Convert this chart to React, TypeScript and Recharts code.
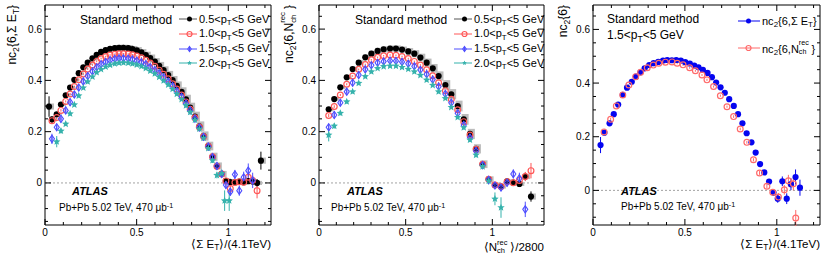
import React from 'react';
import {
  ScatterChart,
  Scatter,
  XAxis,
  YAxis,
  ErrorBar,
  ReferenceLine,
  ReferenceArea,
} from 'recharts';

const FONT = '"Liberation Sans", Arial, Helvetica, sans-serif';

const COLORS = {
  black: '#000000',
  red: '#ff5757',
  blue: '#4f4fff',
  teal: '#35b2ac',
  blue3: '#0505f0',
  red3: '#ff6a6a',
  sys: '#bcbcbc',
  zero: '#8c8c8c',
};

// ---- panel 1: nc2{6, sum ET} vs <sum ET>/(4.1 TeV), rows are [x, y, stat err]
const et05 = [
  [0.022, 0.298, 0.04], [0.038, 0.248, 0.012], [0.064, 0.268, 0.006], [0.087, 0.306, 0.005],
  [0.113, 0.342, 0.004], [0.137, 0.372, 0.004], [0.16, 0.402, 0.003], [0.184, 0.428, 0.003],
  [0.209, 0.451, 0.003], [0.233, 0.469, 0.003], [0.259, 0.486, 0.003], [0.282, 0.5, 0.003],
  [0.306, 0.511, 0.003], [0.331, 0.518, 0.003], [0.355, 0.523, 0.003], [0.381, 0.526, 0.003],
  [0.404, 0.527, 0.003], [0.428, 0.527, 0.003], [0.454, 0.526, 0.003], [0.477, 0.522, 0.003],
  [0.501, 0.517, 0.003], [0.526, 0.509, 0.003], [0.55, 0.499, 0.003], [0.574, 0.487, 0.003],
  [0.599, 0.473, 0.003], [0.623, 0.457, 0.003], [0.647, 0.44, 0.003], [0.672, 0.421, 0.003],
  [0.696, 0.401, 0.003], [0.719, 0.379, 0.003], [0.745, 0.355, 0.003], [0.769, 0.326, 0.003],
  [0.792, 0.294, 0.003], [0.818, 0.259, 0.003], [0.842, 0.221, 0.003], [0.865, 0.183, 0.004],
  [0.891, 0.144, 0.004], [0.914, 0.102, 0.004], [0.938, 0.066, 0.005], [0.964, 0.035, 0.006],
  [0.987, 0.008, 0.007], [1.011, 0.003, 0.007], [1.036, 0.003, 0.007], [1.06, 0.005, 0.008],
  [1.084, 0.003, 0.008], [1.109, 0.007, 0.01], [1.133, 0.006, 0.012], [1.157, 0.0, 0.015],
  [1.178, 0.087, 0.035],
];
const et05Sys = [
  0.012, 0.008, 0.006, 0.006, 0.006, 0.007, 0.007, 0.008, 0.008, 0.009,
  0.009, 0.01, 0.01, 0.011, 0.011, 0.011, 0.012, 0.012, 0.012, 0.012,
  0.013, 0.013, 0.013, 0.014, 0.014, 0.015, 0.015, 0.016, 0.016, 0.017,
  0.018, 0.018, 0.019, 0.019, 0.019, 0.018, 0.017, 0.016, 0.014, 0.012,
  0.01, 0.008, 0.008, 0.008, 0.008, 0.008, 0.008, 0.008, 0.012,
];
const et10 = [
  [0.038, 0.243, 0.012], [0.064, 0.255, 0.006], [0.087, 0.283, 0.005], [0.113, 0.318, 0.004],
  [0.137, 0.347, 0.004], [0.16, 0.376, 0.003], [0.184, 0.402, 0.003], [0.209, 0.425, 0.003],
  [0.233, 0.444, 0.003], [0.259, 0.46, 0.003], [0.282, 0.474, 0.003], [0.306, 0.485, 0.003],
  [0.331, 0.493, 0.003], [0.355, 0.499, 0.003], [0.381, 0.502, 0.003], [0.404, 0.504, 0.003],
  [0.428, 0.504, 0.003], [0.454, 0.503, 0.003], [0.477, 0.5, 0.003], [0.501, 0.495, 0.003],
  [0.526, 0.488, 0.003], [0.55, 0.479, 0.003], [0.574, 0.468, 0.003], [0.599, 0.455, 0.003],
  [0.623, 0.44, 0.003], [0.647, 0.424, 0.003], [0.672, 0.406, 0.003], [0.696, 0.387, 0.003],
  [0.719, 0.366, 0.003], [0.745, 0.343, 0.003], [0.769, 0.316, 0.003], [0.792, 0.287, 0.003],
  [0.818, 0.254, 0.004], [0.842, 0.218, 0.004], [0.865, 0.181, 0.004], [0.891, 0.143, 0.005],
  [0.914, 0.102, 0.005], [0.938, 0.065, 0.006], [0.964, 0.035, 0.007], [0.987, 0.008, 0.008],
  [1.011, -0.022, 0.012], [1.036, 0.002, 0.01], [1.06, 0.005, 0.01], [1.084, 0.003, 0.012],
  [1.109, 0.022, 0.015], [1.133, 0.01, 0.018], [1.157, -0.03, 0.03],
];
const et15 = [
  [0.038, 0.172, 0.02], [0.064, 0.217, 0.008], [0.087, 0.25, 0.006], [0.113, 0.283, 0.005],
  [0.137, 0.315, 0.005], [0.16, 0.345, 0.004], [0.184, 0.372, 0.004], [0.209, 0.396, 0.004],
  [0.233, 0.417, 0.004], [0.259, 0.435, 0.004], [0.282, 0.451, 0.004], [0.306, 0.463, 0.004],
  [0.331, 0.472, 0.004], [0.355, 0.479, 0.004], [0.381, 0.484, 0.004], [0.404, 0.486, 0.004],
  [0.428, 0.486, 0.004], [0.454, 0.485, 0.004], [0.477, 0.482, 0.004], [0.501, 0.477, 0.004],
  [0.526, 0.471, 0.004], [0.55, 0.463, 0.004], [0.574, 0.452, 0.004], [0.599, 0.44, 0.004],
  [0.623, 0.427, 0.004], [0.647, 0.412, 0.004], [0.672, 0.395, 0.004], [0.696, 0.378, 0.004],
  [0.719, 0.358, 0.004], [0.745, 0.336, 0.004], [0.769, 0.31, 0.004], [0.792, 0.283, 0.005],
  [0.818, 0.251, 0.005], [0.842, 0.216, 0.005], [0.865, 0.18, 0.006], [0.891, 0.142, 0.006],
  [0.914, 0.101, 0.007], [0.938, 0.066, 0.008], [0.964, 0.035, 0.009], [0.987, -0.008, 0.012],
  [1.011, -0.034, 0.015], [1.036, 0.033, 0.018], [1.06, -0.03, 0.02], [1.084, 0.022, 0.022],
  [1.109, 0.048, 0.028], [1.133, 0.01, 0.03],
];
const et20 = [
  [0.064, 0.161, 0.022], [0.087, 0.203, 0.01], [0.113, 0.23, 0.008], [0.137, 0.27, 0.007],
  [0.16, 0.305, 0.006], [0.184, 0.34, 0.006], [0.209, 0.371, 0.005], [0.233, 0.395, 0.005],
  [0.259, 0.414, 0.005], [0.282, 0.431, 0.005], [0.306, 0.443, 0.005], [0.331, 0.453, 0.005],
  [0.355, 0.46, 0.005], [0.381, 0.465, 0.005], [0.404, 0.468, 0.005], [0.428, 0.469, 0.005],
  [0.454, 0.468, 0.005], [0.477, 0.465, 0.005], [0.501, 0.461, 0.005], [0.526, 0.455, 0.005],
  [0.55, 0.447, 0.005], [0.574, 0.437, 0.005], [0.599, 0.426, 0.005], [0.623, 0.413, 0.005],
  [0.647, 0.399, 0.005], [0.672, 0.383, 0.005], [0.696, 0.366, 0.005], [0.719, 0.347, 0.005],
  [0.745, 0.326, 0.006], [0.769, 0.302, 0.006], [0.792, 0.276, 0.006], [0.818, 0.246, 0.007],
  [0.842, 0.211, 0.007], [0.865, 0.175, 0.008], [0.891, 0.135, 0.009], [0.914, 0.088, 0.01],
  [0.938, 0.03, 0.012], [0.964, 0.037, 0.015], [0.98, -0.069, 0.04], [1.005, -0.069, 0.04],
];

// ---- panel 2: nc2{6, Nch rec} vs <Nch rec>/2800
const nch05 = [
  [0.056, 0.287, 0.006], [0.088, 0.327, 0.005], [0.123, 0.373, 0.004], [0.16, 0.412, 0.004],
  [0.194, 0.444, 0.003], [0.229, 0.469, 0.003], [0.267, 0.49, 0.003], [0.302, 0.504, 0.003],
  [0.338, 0.515, 0.003], [0.373, 0.521, 0.003], [0.41, 0.524, 0.003], [0.444, 0.524, 0.003],
  [0.479, 0.52, 0.003], [0.515, 0.513, 0.003], [0.55, 0.504, 0.003], [0.585, 0.489, 0.003],
  [0.621, 0.469, 0.003], [0.656, 0.447, 0.003], [0.69, 0.417, 0.003], [0.729, 0.382, 0.003],
  [0.763, 0.346, 0.003], [0.8, 0.3, 0.003], [0.835, 0.248, 0.004], [0.871, 0.191, 0.004],
  [0.906, 0.133, 0.005], [0.944, 0.073, 0.006], [0.979, 0.014, 0.007], [1.015, -0.008, 0.008],
  [1.05, -0.014, 0.009], [1.085, 0.006, 0.01], [1.121, 0.001, 0.011], [1.156, -0.004, 0.012],
  [1.19, 0.025, 0.015], [1.223, -0.053, 0.02],
];
const nch05Sys = [
  0.008, 0.007, 0.007, 0.008, 0.009, 0.01, 0.011, 0.012, 0.012, 0.012,
  0.012, 0.012, 0.012, 0.013, 0.014, 0.015, 0.016, 0.017, 0.018, 0.019,
  0.02, 0.021, 0.021, 0.02, 0.018, 0.015, 0.012, 0.01, 0.008, 0.008,
  0.008, 0.008, 0.01, 0.012,
];
const nch10 = [
  [0.056, 0.263, 0.006], [0.088, 0.298, 0.005], [0.123, 0.343, 0.004], [0.16, 0.385, 0.004],
  [0.194, 0.417, 0.003], [0.229, 0.443, 0.003], [0.267, 0.462, 0.003], [0.302, 0.48, 0.003],
  [0.338, 0.49, 0.003], [0.373, 0.496, 0.003], [0.41, 0.499, 0.003], [0.444, 0.498, 0.003],
  [0.479, 0.493, 0.003], [0.515, 0.485, 0.003], [0.55, 0.474, 0.003], [0.585, 0.46, 0.003],
  [0.621, 0.441, 0.003], [0.656, 0.418, 0.003], [0.69, 0.391, 0.003], [0.729, 0.36, 0.003],
  [0.763, 0.326, 0.003], [0.8, 0.285, 0.004], [0.835, 0.239, 0.004], [0.871, 0.187, 0.005],
  [0.906, 0.131, 0.005], [0.944, 0.073, 0.006], [0.979, 0.014, 0.008], [1.015, -0.008, 0.009],
  [1.05, -0.014, 0.01], [1.085, 0.005, 0.011], [1.121, 0.001, 0.012], [1.156, 0.01, 0.014],
  [1.19, 0.025, 0.018], [1.223, 0.048, 0.03],
];
const nch15 = [
  [0.056, 0.217, 0.008], [0.088, 0.265, 0.006], [0.123, 0.313, 0.005], [0.16, 0.356, 0.005],
  [0.194, 0.391, 0.004], [0.229, 0.421, 0.004], [0.267, 0.443, 0.004], [0.302, 0.459, 0.004],
  [0.338, 0.469, 0.004], [0.373, 0.474, 0.004], [0.41, 0.477, 0.004], [0.444, 0.476, 0.004],
  [0.479, 0.472, 0.004], [0.515, 0.465, 0.004], [0.55, 0.455, 0.004], [0.585, 0.441, 0.004],
  [0.621, 0.424, 0.004], [0.656, 0.403, 0.004], [0.69, 0.376, 0.004], [0.729, 0.347, 0.004],
  [0.763, 0.313, 0.005], [0.8, 0.272, 0.005], [0.835, 0.226, 0.005], [0.871, 0.177, 0.006],
  [0.906, 0.125, 0.006], [0.944, 0.07, 0.007], [0.979, 0.012, 0.009], [1.015, -0.01, 0.011],
  [1.05, -0.018, 0.013], [1.085, 0.001, 0.015], [1.121, 0.035, 0.018], [1.156, 0.018, 0.022],
  [1.19, -0.103, 0.03],
];
const nch20 = [
  [0.056, 0.187, 0.025], [0.088, 0.222, 0.01], [0.123, 0.272, 0.008], [0.16, 0.317, 0.007],
  [0.194, 0.356, 0.006], [0.229, 0.389, 0.006], [0.267, 0.415, 0.005], [0.302, 0.434, 0.005],
  [0.338, 0.447, 0.005], [0.373, 0.454, 0.005], [0.41, 0.456, 0.005], [0.444, 0.456, 0.005],
  [0.479, 0.451, 0.005], [0.515, 0.444, 0.005], [0.55, 0.434, 0.005], [0.585, 0.42, 0.005],
  [0.621, 0.402, 0.005], [0.656, 0.381, 0.005], [0.69, 0.356, 0.005], [0.729, 0.33, 0.006],
  [0.763, 0.295, 0.006], [0.8, 0.256, 0.007], [0.835, 0.216, 0.007], [0.871, 0.168, 0.008],
  [0.906, 0.109, 0.009], [0.944, 0.064, 0.011], [0.979, 0.008, 0.014], [1.015, -0.062, 0.025],
  [1.05, -0.096, 0.04],
];

// ---- panel 3: 1.5<pT<5 GeV, both estimators vs <sum ET>/(4.1 TeV)
const cmpEt = [
  [0.041, 0.169, 0.03], [0.062, 0.215, 0.01], [0.09, 0.25, 0.007], [0.113, 0.284, 0.006],
  [0.137, 0.32, 0.005], [0.162, 0.356, 0.005], [0.185, 0.383, 0.004], [0.211, 0.405, 0.004],
  [0.234, 0.424, 0.004], [0.258, 0.44, 0.004], [0.281, 0.455, 0.004], [0.306, 0.467, 0.004],
  [0.33, 0.474, 0.004], [0.355, 0.479, 0.004], [0.381, 0.484, 0.004], [0.404, 0.486, 0.004],
  [0.429, 0.485, 0.004], [0.453, 0.486, 0.004], [0.478, 0.484, 0.004], [0.502, 0.478, 0.004],
  [0.527, 0.473, 0.004], [0.551, 0.465, 0.004], [0.574, 0.459, 0.004], [0.598, 0.449, 0.004],
  [0.623, 0.438, 0.004], [0.647, 0.422, 0.004], [0.67, 0.402, 0.004], [0.694, 0.384, 0.004],
  [0.717, 0.364, 0.004], [0.741, 0.34, 0.004], [0.766, 0.315, 0.005], [0.789, 0.284, 0.005],
  [0.813, 0.25, 0.005], [0.836, 0.213, 0.005], [0.862, 0.179, 0.006], [0.885, 0.141, 0.006],
  [0.909, 0.098, 0.007], [0.932, 0.067, 0.008], [0.958, 0.033, 0.009], [0.982, -0.008, 0.012],
  [1.005, -0.031, 0.015], [1.03, 0.034, 0.018], [1.054, -0.031, 0.02], [1.077, 0.023, 0.022],
  [1.102, 0.05, 0.028], [1.126, 0.01, 0.03],
];
const cmpNch = [
  [0.06, 0.218, 0.008], [0.096, 0.265, 0.006], [0.127, 0.315, 0.005], [0.162, 0.356, 0.005],
  [0.195, 0.393, 0.004], [0.232, 0.424, 0.004], [0.259, 0.44, 0.004], [0.295, 0.457, 0.004],
  [0.328, 0.467, 0.004], [0.358, 0.474, 0.004], [0.394, 0.478, 0.004], [0.43, 0.479, 0.004],
  [0.458, 0.474, 0.004], [0.49, 0.468, 0.004], [0.526, 0.457, 0.004], [0.557, 0.446, 0.004],
  [0.593, 0.43, 0.004], [0.62, 0.412, 0.004], [0.656, 0.387, 0.004], [0.693, 0.353, 0.004],
  [0.729, 0.312, 0.004], [0.765, 0.275, 0.005], [0.801, 0.229, 0.005], [0.837, 0.179, 0.005],
  [0.873, 0.114, 0.006], [0.906, 0.065, 0.007], [0.946, 0.015, 0.009], [0.978, -0.007, 0.012],
  [1.009, -0.025, 0.015], [1.041, 0.002, 0.018], [1.063, 0.036, 0.022], [1.09, 0.025, 0.025],
  [1.103, -0.103, 0.03],
];

const xTicks = [0, 0.1, 0.2, 0.3, 0.4, 0.5, 0.6, 0.7, 0.8, 0.9, 1, 1.1, 1.2];
const yTicksWide = [-0.15, -0.1, -0.05, 0, 0.05, 0.1, 0.15, 0.2, 0.25, 0.3, 0.35, 0.4, 0.45, 0.5, 0.55, 0.6, 0.65];
const yTicksNarrow = [-0.1, -0.05, 0, 0.05, 0.1, 0.15, 0.2, 0.25, 0.3, 0.35, 0.4, 0.45, 0.5, 0.55, 0.6, 0.65];

const PLOT_H = 220;

const pts = (rows: number[][]) => rows.map(([x, y, e]) => ({ x, y, e }));
// grey systematic boxes sit a hair to the right of the black points
const sysBoxes = (rows: number[][], sys: number[]) =>
  rows.map(([x, y], i) => ({ x: x + 0.008, y, s: sys[i] ?? 0 }));

// ---- markers
type M = { cx: number; cy: number; color: string; r?: number };
const Dot = ({ cx, cy, color, r = 3.1 }: M) => <circle cx={cx} cy={cy} r={r} fill={color} />;
const Ring = ({ cx, cy, color, r = 2.9 }: M) => (
  <circle cx={cx} cy={cy} r={r} fill="none" stroke={color} strokeWidth={1.2} />
);
const Diamond = ({ cx, cy, color, r = 3.6 }: M) => (
  <g stroke={color} fill="none" strokeWidth={1.1}>
    <path d={`M${cx},${cy - r}L${cx + r * 0.7},${cy}L${cx},${cy + r}L${cx - r * 0.7},${cy}Z`} />
    <line x1={cx} x2={cx} y1={cy - r} y2={cy + r} />
  </g>
);
const Star = ({ cx, cy, color, r = 3.9 }: M) => {
  const p: string[] = [];
  for (let i = 0; i < 10; i++) {
    const rr = i % 2 === 0 ? r : r * 0.45;
    const a = -Math.PI / 2 + (i * Math.PI) / 5;
    p.push(`${cx + rr * Math.cos(a)},${cy + rr * Math.sin(a)}`);
  }
  return <polygon points={p.join(' ')} fill={color} />;
};
const Empty = () => <g />;

type Series = { rows: number[][]; color: string; Mark: (m: M) => React.ReactElement };

const fmt = (v: number) => String(Number(v.toFixed(2)));

function makeXTick(plotH: number) {
  return (p: any) => {
    const v = p.payload.value as number;
    const major = Math.abs(v * 2 - Math.round(v * 2)) < 1e-6;
    const len = major ? 6 : 3;
    return (
      <g>
        <line x1={p.x} x2={p.x} y1={p.y} y2={p.y - len} stroke="#000" />
        <line x1={p.x} x2={p.x} y1={p.y - plotH} y2={p.y - plotH + len} stroke="#000" />
        {major && (
          <text x={p.x} y={p.y + 10.5} textAnchor="middle" fontSize={10} fontFamily={FONT} fill="#000">
            {fmt(v)}
          </text>
        )}
      </g>
    );
  };
}

function makeYTick(plotW: number) {
  return (p: any) => {
    const v = p.payload.value as number;
    const major = Math.abs(v * 5 - Math.round(v * 5)) < 1e-6;
    const len = major ? 6 : 3;
    return (
      <g>
        <line x1={p.x} x2={p.x + len} y1={p.y} y2={p.y} stroke="#000" />
        <line x1={p.x + plotW} x2={p.x + plotW - len} y1={p.y} y2={p.y} stroke="#000" />
        {major && (
          <text x={p.x - 3} y={p.y} dy="0.35em" textAnchor="end" fontSize={10} fontFamily={FONT} fill="#000">
            {fmt(v)}
          </text>
        )}
      </g>
    );
  };
}

type PanelProps = {
  left: number;
  width: number;
  axisW: number;
  right: number;
  xMax: number;
  yMin: number;
  yMax: number;
  yTicks: number[];
  series: Series[];
  sys?: { rows: number[][]; s: number[] };
};

function Panel({ left, width, axisW, right, xMax, yMin, yMax, yTicks, series, sys }: PanelProps) {
  const plotW = width - axisW - right;
  return (
    <div style={{ position: 'absolute', left, top: 0 }}>
      <ScatterChart width={width} height={258} margin={{ top: 5, right, bottom: 0, left: 0 }}>
        <XAxis
          dataKey="x"
          type="number"
          domain={[0, xMax]}
          allowDataOverflow
          ticks={xTicks.filter((t) => t <= xMax)}
          interval={0}
          height={33}
          tickSize={0}
          tickMargin={0}
          tickLine={false}
          axisLine={false}
          tick={makeXTick(PLOT_H)}
        />
        <YAxis
          dataKey="y"
          type="number"
          domain={[yMin, yMax]}
          allowDataOverflow
          ticks={yTicks}
          interval={0}
          width={axisW}
          tickSize={0}
          tickMargin={0}
          tickLine={false}
          axisLine={false}
          tick={makeYTick(plotW)}
        />
        <ReferenceLine y={0} stroke={COLORS.zero} strokeDasharray="2 2" strokeWidth={0.8} />
        {sys && (
          <Scatter data={sysBoxes(sys.rows, sys.s)} shape={Empty} isAnimationActive={false}>
            <ErrorBar dataKey="s" direction="y" width={0} stroke={COLORS.sys} strokeWidth={7} isAnimationActive={false} />
          </Scatter>
        )}
        {series.map((s, i) => (
          <Scatter
            key={i}
            data={pts(s.rows)}
            isAnimationActive={false}
            shape={(p: any) => <s.Mark cx={p.cx} cy={p.cy} color={s.color} />}
          >
            <ErrorBar dataKey="e" direction="y" width={0} stroke={s.color} strokeWidth={1} isAnimationActive={false} />
          </Scatter>
        ))}
        <ReferenceArea
          x1={0}
          x2={xMax}
          y1={yMin}
          y2={yMax}
          fill="none"
          fillOpacity={0}
          stroke="#000"
          strokeWidth={1}
          ifOverflow="visible"
        />
      </ScatterChart>
    </div>
  );
}

// ---- text helpers
const Sub = ({ children }: { children: React.ReactNode }) => (
  <span style={{ fontSize: '0.72em', position: 'relative', top: '0.35em' }}>{children}</span>
);
const Sup = ({ children }: { children: React.ReactNode }) => (
  <span style={{ fontSize: '0.72em', position: 'relative', top: '-0.45em' }}>{children}</span>
);
const ChRec = ({ supTop = '-0.2em' }: { supTop?: string }) => (
  <span style={{ position: 'relative', display: 'inline-block', width: '1.15em', height: '1em' }}>
    <span style={{ position: 'absolute', left: 0, top: supTop, fontSize: '0.65em', lineHeight: 1 }}>rec</span>
    <span style={{ position: 'absolute', left: 0, top: '1.1em', fontSize: '0.65em', lineHeight: 1 }}>ch</span>
  </span>
);

const T = ({
  x,
  y,
  size = 11,
  children,
  style,
}: {
  x: number;
  y: number;
  size?: number;
  children: React.ReactNode;
  style?: React.CSSProperties;
}) => (
  <div
    style={{
      position: 'absolute',
      left: x,
      top: y - size / 2 - 1,
      fontSize: size,
      lineHeight: `${size + 2}px`,
      whiteSpace: 'nowrap',
      ...style,
    }}
  >
    {children}
  </div>
);

const YTitle = ({ x, children }: { x: number; children: React.ReactNode }) => (
  <div
    style={{
      position: 'absolute',
      left: x,
      top: 5 + 120,
      width: 120,
      textAlign: 'right',
      transform: 'rotate(-90deg)',
      transformOrigin: '0 0',
      fontSize: 12,
      lineHeight: '14px',
      whiteSpace: 'nowrap',
    }}
  >
    {children}
  </div>
);

const XTitle = ({ right, top = 237.5, children }: { right: number; top?: number; children: React.ReactNode }) => (
  <div
    style={{
      position: 'absolute',
      left: right - 150,
      top,
      width: 150,
      textAlign: 'right',
      fontSize: 11.5,
      lineHeight: '12px',
      whiteSpace: 'nowrap',
    }}
  >
    {children}
  </div>
);

const LegendRow = ({
  x0,
  x1,
  mx,
  tx,
  y,
  color,
  lineColor,
  Mark,
  children,
}: {
  x0: number;
  x1: number;
  mx: number;
  tx: number;
  y: number;
  color: string;
  lineColor?: string;
  Mark: (m: M) => React.ReactElement;
  children: React.ReactNode;
}) => (
  <>
    <svg style={{ position: 'absolute', left: x0, top: y - 6 }} width={x1 - x0} height={12}>
      <line x1={0} x2={x1 - x0} y1={6} y2={6} stroke={lineColor ?? color} strokeWidth={1} />
      <Mark cx={mx - x0} cy={6} color={color} r={2.5} />
    </svg>
    <T x={tx} y={y}>
      {children}
    </T>
  </>
);

const ptLabel = (lo: string) => (
  <>
    {lo}&lt;p<Sub>T</Sub>&lt;5 GeV
  </>
);

const etSeries: Series[] = [
  { rows: et05, color: COLORS.black, Mark: Dot },
  { rows: et10, color: COLORS.red, Mark: Ring },
  { rows: et15, color: COLORS.blue, Mark: Diamond },
  { rows: et20, color: COLORS.teal, Mark: Star },
];
const nchSeries: Series[] = [
  { rows: nch05, color: COLORS.black, Mark: Dot },
  { rows: nch10, color: COLORS.red, Mark: Ring },
  { rows: nch15, color: COLORS.blue, Mark: Diamond },
  { rows: nch20, color: COLORS.teal, Mark: Star },
];
const cmpSeries: Series[] = [
  { rows: cmpEt, color: COLORS.blue3, Mark: Dot },
  { rows: cmpNch, color: COLORS.red3, Mark: Ring },
];

const legendRows = [
  { lo: '0.5', color: COLORS.black, line: '#555', Mark: Dot, y: 19 },
  { lo: '1.0', color: COLORS.red, line: COLORS.red, Mark: Ring, y: 33.5 },
  { lo: '1.5', color: COLORS.blue, line: COLORS.blue, Mark: Diamond, y: 48.5 },
  { lo: '2.0', color: COLORS.teal, line: COLORS.teal, Mark: Star, y: 63 },
];

const PanelTexts = ({ dx }: { dx: number }) => (
  <>
    <T x={80 + dx} y={20} size={12}>
      Standard method
    </T>
    {legendRows.map((r) => (
      <LegendRow
        key={r.lo}
        x0={179 + dx}
        x1={197 + dx}
        mx={189.5 + dx}
        tx={199 + dx}
        y={r.y}
        color={r.color}
        lineColor={r.line}
        Mark={r.Mark}
      >
        {ptLabel(r.lo)}
      </LegendRow>
    ))}
  </>
);

export default function App() {
  return (
    <div
      style={{
        position: 'absolute',
        left: 0,
        top: 0,
        width: 830,
        height: 258,
        background: '#fff',
        fontFamily: FONT,
        color: '#000',
        overflow: 'hidden',
      }}
    >
      <Panel
        left={0}
        width={280}
        axisW={45}
        right={9}
        xMax={1.233}
        yMin={-0.164}
        yMax={0.694}
        yTicks={yTicksWide}
        series={etSeries}
        sys={{ rows: et05, s: et05Sys }}
      />
      <Panel
        left={275}
        width={278}
        axisW={44}
        right={9}
        xMax={1.298}
        yMin={-0.164}
        yMax={0.694}
        yTicks={yTicksWide}
        series={nchSeries}
        sys={{ rows: nch05, s: nch05Sys }}
      />
      <Panel
        left={550}
        width={280}
        axisW={43}
        right={10}
        xMax={1.235}
        yMin={-0.129}
        yMax={0.691}
        yTicks={yTicksNarrow}
        series={cmpSeries}
      />

      {/* panel 1 texts */}
      <YTitle x={5}>
        nc<Sub>2</Sub>{'{'}6,Σ E<Sub>T</Sub>{'}'}
      </YTitle>
      <PanelTexts dx={0} />
      <T x={72} y={191} style={{ fontWeight: 700, fontStyle: 'italic' }}>
        ATLAS
      </T>
      <T x={59} y={208} size={10}>
        Pb+Pb 5.02 TeV, 470 μb<Sup>-1</Sup>
      </T>
      <XTitle right={271}>
        ⟨Σ E<Sub>T</Sub>⟩/(4.1TeV)
      </XTitle>

      {/* panel 2 texts */}
      <YTitle x={281}>
        nc<Sub>2</Sub>{'{'}6,N<ChRec />{'}'}
      </YTitle>
      <PanelTexts dx={275} />
      <T x={347} y={191} style={{ fontWeight: 700, fontStyle: 'italic' }}>
        ATLAS
      </T>
      <T x={331} y={208} size={10}>
        Pb+Pb 5.02 TeV, 470 μb<Sup>-1</Sup>
      </T>
      <XTitle right={544} top={239}>
        ⟨N<ChRec supTop="-0.05em" />⟩/2800
      </XTitle>

      {/* panel 3 texts */}
      <YTitle x={556}>
        nc<Sub>2</Sub>{'{'}6{'}'}
      </YTitle>
      <T x={607} y={19} size={12}>
        Standard method
      </T>
      <T x={607} y={35} size={12}>
        {ptLabel('1.5')}
      </T>
      <LegendRow x0={738} x1={760} mx={748.5} tx={762} y={21} color={COLORS.blue3} Mark={Dot}>
        nc<Sub>2</Sub>{'{'}6,Σ E<Sub>T</Sub>{'}'}
      </LegendRow>
      <LegendRow x0={738} x1={760} mx={748.5} tx={762} y={48} color={COLORS.red3} Mark={Ring}>
        nc<Sub>2</Sub>{'{'}6,N<ChRec />{'}'}
      </LegendRow>
      <T x={621} y={191} style={{ fontWeight: 700, fontStyle: 'italic' }}>
        ATLAS
      </T>
      <T x={621} y={207} size={10}>
        Pb+Pb 5.02 TeV, 470 μb<Sup>-1</Sup>
      </T>
      <XTitle right={820}>
        ⟨Σ E<Sub>T</Sub>⟩/(4.1TeV)
      </XTitle>
    </div>
  );
}
